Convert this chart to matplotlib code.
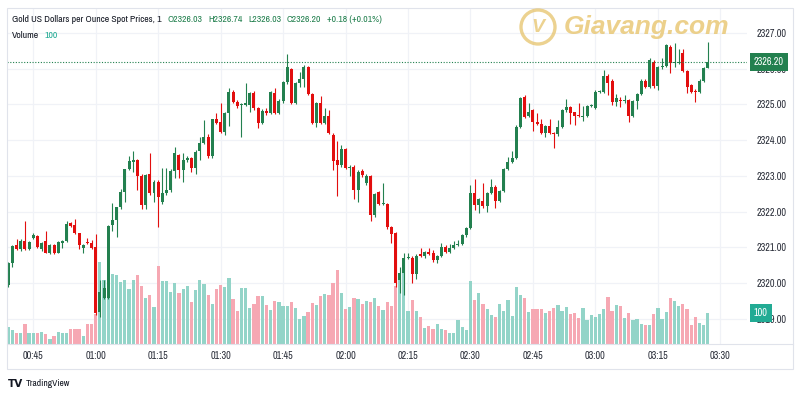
import matplotlib
matplotlib.use("Agg")
import matplotlib.pyplot as plt  # noqa: E402
import matplotlib.font_manager as fm  # noqa: E402
from matplotlib.patches import Rectangle, Ellipse  # noqa: E402
from matplotlib.lines import Line2D  # noqa: E402
import numpy as np  # noqa: E402
import pandas as pd  # noqa: E402

# 1-minute candles, 00:39 .. 03:27
times = pd.date_range("2024-05-21 00:39", periods=169, freq="min")

opens = [
    2319.94, 2320.55, 2321.06, 2320.94, 2321.18, 2320.94, 2321.25, 2321.31, 2320.95, 2321.18,
    2320.85, 2321.06, 2320.85, 2321.12, 2321.18, 2321.68, 2321.61, 2321.39, 2320.97, 2321.13,
    2321.11, 2321.01, 2319.19, 2319.57, 2319.57, 2321.63, 2321.76, 2322.12, 2322.56, 2323.18,
    2323.40, 2323.44, 2322.99, 2322.18, 2323.05, 2322.51, 2322.84, 2322.27, 2322.51, 2322.60,
    2323.14, 2323.58, 2323.16, 2323.44, 2323.50, 2323.21, 2323.70, 2323.93, 2324.10, 2323.55,
    2324.58, 2324.50, 2324.24, 2324.77, 2325.35, 2325.08, 2324.98, 2324.98, 2324.98, 2325.33,
    2324.89, 2324.47, 2324.82, 2324.76, 2325.33, 2324.77, 2325.10, 2325.62, 2325.99, 2325.05,
    2325.59, 2325.71, 2326.04, 2325.29, 2324.49, 2325.05, 2324.49, 2324.68, 2324.15, 2323.45,
    2323.30, 2323.74, 2323.21, 2323.26, 2322.60, 2323.14, 2322.79, 2322.99, 2321.90, 2322.55,
    2322.21, 2322.21, 2321.56, 2321.39, 2320.08, 2320.29, 2320.69, 2320.71, 2320.25, 2320.80,
    2320.75, 2320.87, 2320.84, 2320.64, 2320.75, 2321.01, 2320.87, 2320.97, 2321.06, 2321.09,
    2321.34, 2321.53, 2322.51, 2322.18, 2322.30, 2322.15, 2322.53, 2322.70, 2322.30, 2322.57,
    2323.18, 2323.39, 2323.49, 2324.38, 2325.20, 2324.68, 2324.83, 2324.52, 2324.45, 2324.21,
    2324.39, 2324.20, 2324.16, 2324.36, 2324.84, 2324.92, 2324.78, 2324.70, 2324.65, 2324.68,
    2324.95, 2324.90, 2325.35, 2325.36, 2325.80, 2325.66, 2325.08, 2325.12, 2325.10, 2325.12,
    2324.68, 2325.10, 2325.29, 2325.66, 2325.48, 2326.20, 2325.52, 2326.04, 2326.08, 2326.60,
    2326.15, 2326.15, 2326.45, 2325.94, 2325.55, 2325.38, 2325.36, 2325.66, 2326.03,
]
highs = [
    2320.60, 2321.06, 2321.23, 2321.22, 2321.73, 2321.18, 2321.40, 2321.34, 2321.15, 2321.45,
    2321.08, 2321.10, 2321.17, 2321.20, 2321.73, 2321.72, 2321.79, 2321.41, 2321.08, 2321.25,
    2321.20, 2321.36, 2320.08, 2320.08, 2321.62, 2322.25, 2322.14, 2322.62, 2323.20, 2323.55,
    2323.70, 2323.46, 2323.05, 2323.05, 2323.63, 2322.88, 2322.88, 2323.21, 2323.21, 2323.18,
    2323.82, 2323.62, 2323.65, 2323.55, 2323.54, 2323.72, 2324.10, 2324.56, 2324.18, 2324.60,
    2324.75, 2325.04, 2324.80, 2325.45, 2325.40, 2325.12, 2325.05, 2325.59, 2325.36, 2325.38,
    2324.92, 2324.86, 2324.90, 2325.38, 2325.45, 2325.14, 2325.66, 2326.41, 2326.03, 2325.63,
    2325.90, 2326.10, 2326.08, 2325.32, 2325.08, 2325.24, 2324.90, 2324.84, 2324.20, 2323.98,
    2323.85, 2323.78, 2323.30, 2323.30, 2323.16, 2323.18, 2323.05, 2323.02, 2322.52, 2322.58,
    2322.81, 2322.24, 2321.60, 2321.42, 2320.45, 2320.85, 2320.85, 2320.75, 2320.80, 2320.97,
    2320.90, 2320.97, 2320.92, 2320.78, 2321.12, 2321.05, 2321.08, 2321.18, 2321.20, 2321.38,
    2321.58, 2322.74, 2322.90, 2322.38, 2322.80, 2322.56, 2322.90, 2322.74, 2322.60, 2323.22,
    2323.52, 2323.70, 2324.42, 2325.20, 2325.26, 2325.05, 2324.86, 2324.75, 2324.60, 2324.42,
    2324.58, 2324.24, 2324.55, 2324.88, 2325.14, 2324.95, 2324.80, 2325.04, 2324.95, 2324.99,
    2325.02, 2325.40, 2325.40, 2325.96, 2325.84, 2325.70, 2325.30, 2325.22, 2325.25, 2325.16,
    2325.12, 2325.32, 2325.70, 2325.70, 2326.30, 2326.25, 2326.08, 2326.30, 2326.70, 2326.66,
    2326.71, 2326.55, 2326.56, 2325.97, 2325.58, 2325.42, 2325.70, 2326.05, 2326.74,
]
lows = [
    2319.90, 2320.45, 2320.92, 2320.90, 2320.92, 2320.92, 2321.22, 2320.98, 2320.90, 2320.83,
    2320.82, 2320.80, 2320.83, 2320.98, 2321.15, 2321.58, 2321.37, 2320.96, 2320.84, 2321.08,
    2320.95, 2319.10, 2319.05, 2319.55, 2319.55, 2321.45, 2321.29, 2322.08, 2322.27, 2323.15,
    2323.10, 2322.60, 2322.07, 2322.07, 2322.45, 2322.27, 2321.57, 2322.22, 2322.45, 2322.55,
    2322.95, 2322.95, 2322.83, 2323.40, 2323.10, 2323.05, 2323.45, 2323.88, 2323.50, 2323.50,
    2324.45, 2324.20, 2324.15, 2324.40, 2325.05, 2324.90, 2324.10, 2324.95, 2324.80, 2324.85,
    2324.35, 2324.44, 2324.70, 2324.72, 2324.74, 2324.74, 2325.05, 2325.58, 2325.00, 2325.02,
    2325.48, 2325.48, 2325.25, 2324.45, 2324.36, 2324.45, 2324.46, 2324.18, 2323.16, 2322.43,
    2323.25, 2323.18, 2322.99, 2322.34, 2322.27, 2322.98, 2322.75, 2321.74, 2321.86, 2322.18,
    2322.18, 2321.52, 2321.13, 2319.90, 2319.71, 2319.66, 2320.66, 2320.00, 2320.10, 2320.72,
    2320.70, 2320.78, 2320.60, 2320.55, 2320.72, 2320.84, 2320.84, 2320.94, 2321.03, 2321.06,
    2321.30, 2321.50, 2322.05, 2321.95, 2322.10, 2322.00, 2322.50, 2322.10, 2322.27, 2322.54,
    2323.15, 2323.36, 2323.46, 2324.35, 2324.62, 2324.65, 2324.25, 2324.42, 2324.18, 2324.10,
    2324.18, 2323.77, 2324.12, 2324.33, 2324.80, 2324.44, 2324.43, 2324.64, 2324.54, 2324.65,
    2324.92, 2324.87, 2325.32, 2325.33, 2325.25, 2324.97, 2324.95, 2324.92, 2325.05, 2324.52,
    2324.65, 2324.88, 2325.26, 2325.45, 2325.45, 2325.45, 2325.40, 2326.00, 2326.05, 2325.88,
    2326.05, 2326.12, 2325.90, 2325.32, 2325.33, 2325.08, 2325.33, 2325.62, 2326.03,
]
closes = [
    2320.55, 2321.03, 2320.94, 2321.18, 2320.94, 2321.15, 2321.34, 2321.01, 2321.12, 2320.85,
    2321.06, 2320.85, 2321.15, 2321.18, 2321.64, 2321.60, 2321.39, 2321.06, 2321.06, 2321.12,
    2320.97, 2319.17, 2319.74, 2319.85, 2321.60, 2321.76, 2322.12, 2322.56, 2323.18, 2323.42,
    2323.45, 2322.99, 2322.18, 2323.02, 2322.51, 2322.84, 2322.40, 2322.51, 2322.60, 2323.14,
    2323.63, 2323.16, 2323.44, 2323.50, 2323.21, 2323.68, 2323.93, 2324.10, 2323.55, 2324.58,
    2324.49, 2324.24, 2324.77, 2325.35, 2325.08, 2324.96, 2325.00, 2325.05, 2325.31, 2324.89,
    2324.47, 2324.82, 2324.76, 2325.34, 2324.77, 2325.10, 2325.62, 2326.04, 2325.05, 2325.59,
    2325.71, 2326.06, 2325.29, 2324.49, 2325.05, 2324.49, 2324.68, 2324.21, 2323.42, 2323.30,
    2323.74, 2323.21, 2323.26, 2322.60, 2323.12, 2323.02, 2322.99, 2321.90, 2322.49, 2322.21,
    2322.24, 2321.56, 2321.37, 2319.99, 2320.29, 2320.69, 2320.72, 2320.25, 2320.76, 2320.75,
    2320.87, 2320.80, 2320.64, 2320.75, 2321.01, 2320.87, 2320.97, 2321.06, 2321.09, 2321.34,
    2321.53, 2322.51, 2322.18, 2322.34, 2322.15, 2322.53, 2322.70, 2322.30, 2322.57, 2323.18,
    2323.39, 2323.49, 2324.38, 2325.17, 2324.66, 2324.80, 2324.52, 2324.45, 2324.21, 2324.39,
    2324.21, 2324.18, 2324.36, 2324.84, 2324.92, 2324.75, 2324.68, 2324.67, 2324.68, 2324.96,
    2324.98, 2325.36, 2325.37, 2325.80, 2325.61, 2325.08, 2325.17, 2325.10, 2325.13, 2324.68,
    2325.10, 2325.29, 2325.66, 2325.48, 2326.24, 2325.52, 2326.04, 2326.08, 2326.66, 2326.17,
    2326.20, 2326.20, 2325.94, 2325.50, 2325.36, 2325.36, 2325.66, 2326.02, 2326.20,
]
volumes = [
    54, 45, 36, 34, 63, 34, 34, 36, 38, 31,
    15, 26, 38, 34, 34, 48, 48, 48, 26, 64,
    64, 98, 266, 205, 186, 226, 221, 199, 205, 178,
    205, 224, 188, 148, 157, 119, 253, 203, 203, 167,
    196, 164, 179, 188, 134, 173, 205, 192, 157, 130,
    179, 189, 183, 213, 145, 105, 181, 181, 116, 130,
    156, 156, 125, 109, 139, 136, 122, 122, 136, 115,
    82, 90, 102, 133, 125, 154, 162, 158, 196, 239,
    166, 113, 118, 149, 145, 128, 139, 136, 149, 122,
    109, 136, 122, 186, 216, 229, 105, 141, 106, 87,
    53, 58, 47, 66, 50, 45, 37, 34, 77, 55,
    45, 203, 141, 165, 130, 112, 93, 87, 130, 106,
    141, 90, 184, 157, 150, 103, 112, 114, 112, 101,
    108, 115, 125, 107, 120, 96, 101, 85, 116, 77,
    93, 88, 98, 113, 151, 106, 125, 122, 85, 101,
    77, 82, 66, 60, 62, 96, 116, 82, 102, 147,
    139, 122, 128, 113, 62, 88, 68, 62, 100,
]
price_ticks = [2319, 2320, 2321, 2322, 2323, 2324, 2325, 2326, 2327]
title = "Gold US Dollars per Ounce Spot Prices, 1"

GREEN = "#23804f"
RED = "#e20e0e"
VGREEN = "#93d4c8"
VRED = "#f6a8b3"
TEAL = "#22ab94"
TEXT = "#131722"
GRID = "#f0f2f7"
GOLD = "#e6c36b"


def pick_narrow_font():
    """Return (family, stretch, size scale) for a condensed sans if one is installed."""
    for f in fm.fontManager.ttflist:
        n = f.name
        if ("Narrow" in n or "Condensed" in n) and "Mono" not in n and "Serif" not in n:
            return n, "normal", 1.0
    for f in fm.fontManager.ttflist:
        if f.stretch in ("condensed", "semi-condensed") and f.name in (
                "DejaVu Sans", "Noto Sans", "Open Sans", "Roboto", "Liberation Sans"):
            return f.name, f.stretch, 1.0
    return "Liberation Sans", "normal", 0.86


FAMILY, STRETCH, K = pick_narrow_font()
plt.rcParams["font.family"] = [FAMILY, "DejaVu Sans"]
plt.rcParams["font.stretch"] = STRETCH
FS = 7 * K

o = np.array(opens)
h = np.array(highs)
lo = np.array(lows)
c = np.array(closes)
v = np.array(volumes)
x = np.arange(len(times))
up = c >= o

fig = plt.figure(figsize=(8, 4), dpi=100)
fig.patch.set_facecolor("white")
rect = [7 / 800, 1 - 344 / 400, 740 / 800, 336 / 400]
ax_bg = fig.add_axes(rect)
ax_vol = fig.add_axes(rect, sharex=ax_bg)
ax = fig.add_axes(rect, sharex=ax_bg, sharey=ax_bg)
for a in (ax_vol, ax):
    a.patch.set_visible(False)
    a.set_axis_off()

# background grid + scales
tick_times = pd.date_range(times[0].ceil("15min"), periods=12, freq="15min")
tick_pos = (tick_times - times[0]) / pd.Timedelta(minutes=1)
ax_bg.set_xlim(-0.3, 177.4)
ax_bg.set_ylim(2318.29, 2327.70)
ax_bg.set_xticks(tick_pos)
ax_bg.set_xticklabels([t.strftime("%H:%M") for t in tick_times])
ax_bg.set_yticks(price_ticks)
ax_bg.set_yticklabels([f"{p:.2f}" for p in price_ticks])
ax_bg.yaxis.tick_right()
ax_bg.tick_params(axis="both", length=0, labelsize=FS + 0.3, labelcolor="#2a2e39")
ax_bg.tick_params(axis="y", pad=7)
ax_bg.tick_params(axis="x", pad=5)
ax_bg.grid(True, color=GRID, linewidth=0.9)
for s in ax_bg.spines.values():
    s.set_visible(False)

# volume
ax_vol.set_ylim(0, 1084)
ax_vol.bar(x, v, width=0.78, color=np.where(up, VGREEN, VRED), linewidth=0)
ax_vol.annotate(f"{volumes[-1]}", xy=(1, volumes[-1]), xycoords=("axes fraction", "data"),
                xytext=(5, 0), textcoords="offset points", ha="left", va="center",
                color="white", fontsize=FS + 0.3,
                bbox=dict(boxstyle="square,pad=0.4", fc=TEAL, ec="none"),
                annotation_clip=False)

# candles
cols = np.where(up, GREEN, RED)
ax.vlines(x, lo, h, colors=cols, linewidth=0.8)
body = np.maximum(np.abs(c - o), 0.025)
ax.bar(x, body, bottom=np.minimum(o, c), width=0.72, color=cols, linewidth=0)
ax.axhline(closes[-1], color=GREEN, linestyle=(0, (1, 1.5)), linewidth=0.8)
ax.annotate(f"{closes[-1]:.2f}", xy=(1, closes[-1]), xycoords=("axes fraction", "data"),
            xytext=(5, 0), textcoords="offset points", ha="left", va="center",
            color="white", fontsize=FS + 0.3,
            bbox=dict(boxstyle="square,pad=0.4", fc=GREEN, ec="none"),
            annotation_clip=False)

# frame around pane + time scale
fig.add_artist(Rectangle((7 / 800, 1 - 369 / 400), 786 / 800, 361 / 400,
                         transform=fig.transFigure, fill=False, ec="#e0e3eb", lw=0.8))
fig.add_artist(Line2D([7 / 800, 793 / 800], [1 - 344 / 400] * 2,
                      transform=fig.transFigure, color="#e0e3eb", lw=0.8))

# legend line
chg = closes[-1] - closes[-2]
pieces = [
    (title, TEXT, 0),
    (f"O{opens[-1]:.2f}", GREEN, 4.5),
    (f"H{highs[-1]:.2f}", GREEN, 4),
    (f"L{lows[-1]:.2f}", GREEN, 4),
    (f"C{closes[-1]:.2f}", GREEN, 4),
    (f"{chg:+.2f} ({chg / closes[-2] * 100:+.2f}%)", GREEN, 4),
]
prev = fig.text(12 / 800, 1 - 20 / 400, pieces[0][0], color=pieces[0][1],
                fontsize=FS, va="center", ha="left")
for txt, col, gap in pieces[1:]:
    prev = ax.annotate(txt, xy=(1, 0.5), xycoords=prev, xytext=(gap, 0),
                       textcoords="offset points", va="center", ha="left",
                       color=col, fontsize=FS, annotation_clip=False)
vt = fig.text(12 / 800, 1 - 36 / 400, "Volume", color=TEXT, fontsize=FS, va="center")
ax.annotate(f"{volumes[-1]}", xy=(1, 0.5), xycoords=vt, xytext=(4, 0),
            textcoords="offset points", va="center", ha="left", color=TEAL,
            fontsize=FS, annotation_clip=False)

# watermark
fig.add_artist(Ellipse((538 / 800, 1 - 27 / 400), 34 / 800, 34 / 400,
                       transform=fig.transFigure, fill=False, ec=GOLD, lw=2.4,
                       alpha=0.75))
fig.text(538 / 800, 1 - 27 / 400, "V", fontsize=14, fontweight="bold", style="italic",
         color=GOLD, alpha=0.75, ha="center", va="center", family="Liberation Sans",
         stretch="normal")
fig.text(564 / 800, 1 - 27 / 400, "Giavang.com", fontsize=19, fontweight="bold",
         style="italic", color="#e8c56e", alpha=0.8, ha="left", va="center",
         family="Liberation Sans", stretch="normal")

# TradingView branding
tv = fig.text(8 / 800, 1 - 384 / 400, "TV", fontsize=7.5, fontweight="bold", color=TEXT,
              va="center", ha="left", family="DejaVu Sans")
ax.annotate("TradingView", xy=(1, 0.5), xycoords=tv, xytext=(1.5, 0),
            textcoords="offset points", va="center", ha="left", color=TEXT,
            fontsize=6.5 * K + 0.3, annotation_clip=False)

fig.savefig("out.png", dpi=100, facecolor="white")
